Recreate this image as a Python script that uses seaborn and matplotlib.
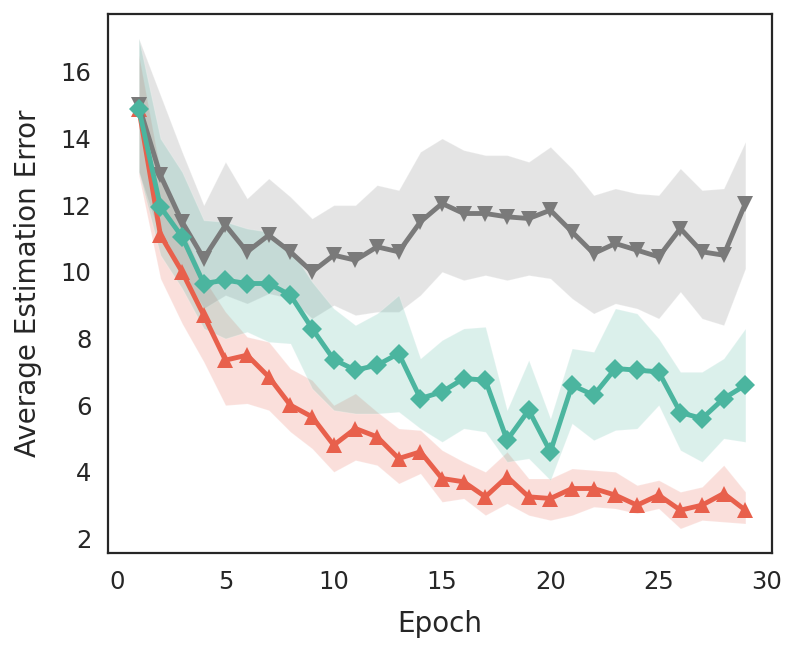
import numpy as np
import pandas as pd
import matplotlib
matplotlib.use("Agg")
import matplotlib.pyplot as plt
import seaborn as sns

epochs = list(range(1, 30))

gray_mean = [15.0, 12.9, 11.5, 10.4, 11.4, 10.6, 11.1, 10.6, 10.0, 10.5,
             10.35, 10.75, 10.6, 11.5, 12.05, 11.75, 11.75, 11.65, 11.6, 11.85,
             11.2, 10.55, 10.85, 10.65, 10.45, 11.3, 10.6, 10.5, 12.05]
gray_upper = [17.0, 15.3, 13.6, 12.0, 13.3, 12.2, 12.8, 12.25, 11.6, 12.0,
              12.0, 12.6, 12.45, 13.6, 14.0, 13.65, 13.5, 13.5, 13.3, 13.75,
              13.1, 12.3, 12.5, 12.35, 12.3, 13.1, 12.45, 12.5, 13.9]
gray_lower = [13.0, 11.0, 10.0, 8.9, 9.3, 9.05, 9.35, 9.2, 8.6, 9.0,
              8.7, 8.8, 8.8, 9.3, 10.0, 9.75, 9.9, 9.75, 9.9, 9.8,
              9.2, 8.75, 9.05, 8.9, 8.6, 9.4, 8.6, 8.4, 10.1]

teal_mean = [14.9, 11.95, 11.05, 9.65, 9.75, 9.65, 9.65, 9.3, 8.3, 7.37,
             7.05, 7.2, 7.55, 6.2, 6.4, 6.8, 6.75, 4.95, 5.85, 4.6,
             6.6, 6.3, 7.1, 7.05, 7.0, 5.78, 5.6, 6.2, 6.6]
teal_upper = [17.0, 14.0, 13.0, 11.55, 11.5, 11.3, 11.2, 10.7, 9.7, 8.9,
              8.4, 8.75, 9.3, 7.4, 7.95, 8.3, 8.35, 5.85, 7.35, 5.6,
              7.7, 7.6, 8.9, 8.75, 8.0, 7.0, 7.0, 7.4, 8.3]
teal_lower = [13.0, 10.5, 9.5, 8.3, 8.0, 8.2, 7.9, 7.85, 6.5, 5.85,
              5.75, 5.75, 5.8, 5.3, 4.9, 5.3, 5.2, 4.3, 4.4, 3.75,
              5.45, 4.95, 5.25, 5.3, 6.0, 4.65, 4.3, 5.0, 4.9]

red_mean = [14.9, 11.1, 10.0, 8.7, 7.35, 7.5, 6.85, 6.0, 5.65, 4.8,
            5.3, 5.05, 4.4, 4.6, 3.8, 3.7, 3.25, 3.85, 3.25, 3.2,
            3.5, 3.5, 3.3, 3.0, 3.3, 2.85, 3.0, 3.35, 2.85]
red_upper = [16.5, 13.0, 11.3, 9.8, 8.8, 8.05, 7.9, 7.1, 6.75, 6.0,
             6.35, 5.8, 5.3, 5.25, 4.65, 4.3, 4.0, 4.6, 3.8, 3.8,
             4.1, 4.05, 4.0, 3.6, 3.75, 3.4, 3.55, 4.2, 3.4]
red_lower = [12.9, 9.8, 8.45, 7.3, 6.0, 6.05, 5.85, 5.2, 4.7, 4.0,
             4.35, 4.2, 3.65, 3.95, 3.1, 3.2, 2.7, 3.05, 2.7, 2.55,
             2.7, 2.95, 2.9, 2.75, 2.9, 2.3, 2.55, 2.5, 2.45]

x_ticks = [0, 5, 10, 15, 20, 25, 30]
y_ticks = [2, 4, 6, 8, 10, 12, 14, 16]
x_label = "Epoch"
y_label = "Average Estimation Error"

RED = "#E8604C"
TEAL = "#4BB59F"
GRAY = "#7A7A7A"

sns.set_theme(style="white")
plt.rcParams['font.family'] = ['DejaVu Sans']

fig = plt.figure(figsize=(7.93, 6.55), dpi=100)
ax = fig.add_axes([108/793, 1-553/655, (772-108)/793, (553-14)/655])

series = [
    ("red", red_mean, red_lower, red_upper, RED, "^", 12),
    ("gray", gray_mean, gray_lower, gray_upper, GRAY, "v", 12),
    ("teal", teal_mean, teal_lower, teal_upper, TEAL, "D", 10),
]

for name, m, lo, hi, col, mk, ms in series:
    ax.fill_between(epochs, lo, hi, color=col, alpha=0.2, linewidth=0.8,
                    edgecolor=(1, 1, 1, 0.5), zorder=1)

for name, m, lo, hi, col, mk, ms in series:
    df = pd.DataFrame({"Epoch": epochs, "val": m})
    sns.lineplot(data=df, x="Epoch", y="val", ax=ax, color=col, marker=mk,
                 markersize=ms, linewidth=3.5, markeredgewidth=0,
                 markeredgecolor=col, zorder=3)

ax.set_xlim(-0.42, 30.23)
ax.set_xticks(x_ticks)
ax.set_yticks(y_ticks)
ax.set_xlabel(x_label, fontsize=20, labelpad=12)
ax.set_ylabel(y_label, fontsize=20, labelpad=13)
ax.tick_params(axis="both", labelsize=17.5, colors="#262626", length=0, pad=12)
for s in ax.spines.values():
    s.set_color("#262626")
    s.set_linewidth(1.6)
    s.set_visible(True)

fig.savefig("out.png", dpi=100)
